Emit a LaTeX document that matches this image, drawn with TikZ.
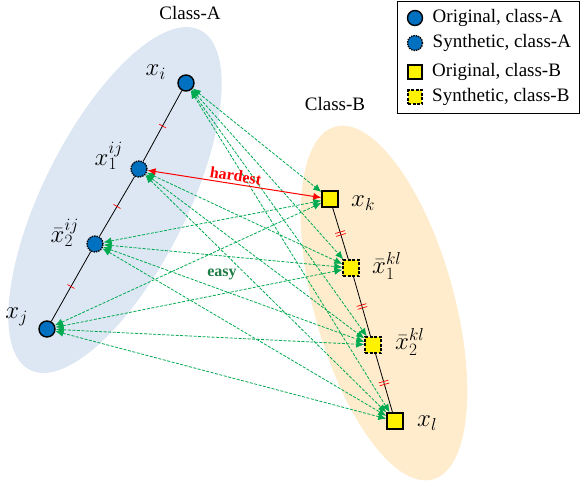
\documentclass[tikz,border=0pt]{standalone}
\usepackage{fontspec}
\setmainfont{Liberation Serif}
\usetikzlibrary{arrows.meta,decorations.markings,positioning}
\definecolor{ptblue}{RGB}{0,112,192}
\definecolor{clsA}{RGB}{220,231,243}
\definecolor{clsB}{RGB}{254,236,204}
\definecolor{pgreen}{RGB}{0,170,80}
\definecolor{egreen}{RGB}{30,125,70}

\begin{document}
\begin{tikzpicture}[x=1pt,y=-1pt,>={Latex[length=8pt,width=7pt]},
    font=\fontsize{19}{21}\selectfont,
    origA/.style={circle,draw,line width=1.4pt,fill=ptblue,minimum size=16pt,inner sep=0pt},
    synA/.style={origA,densely dotted},
    origB/.style={rectangle,draw,line width=1.4pt,fill=yellow,minimum size=16pt,inner sep=0pt},
    synB/.style={origB,dashed,dash pattern=on 3pt off 1.5pt},
    lbl/.style={font=\fontsize{23}{25}\selectfont,inner sep=1pt},
    pair/.style={<->,draw=pgreen,line width=0.8pt,dash pattern=on 3pt off 1.5pt},
    tickone/.style={postaction={decorate},decoration={markings,
      mark=at position 0.5 with {\draw[red,line width=0.7pt] (0,-4pt)--(0,4pt);}}},
    ticktwo/.style={postaction={decorate},decoration={markings,
      mark=at position 0.5 with {\draw[red,line width=0.7pt] (-1.5pt,-5pt)--(-1.5pt,5pt) (1.5pt,-5pt)--(1.5pt,5pt);}}}]
  \useasboundingbox (0,0) rectangle (582,482);
  \fill[clsA,rotate around={63.4:(115,200)}] (115,200) ellipse [x radius=190pt,y radius=72pt];
  \fill[clsB,rotate around={-74.5:(384,303)}] (384,303) ellipse [x radius=183pt,y radius=70pt];
  \node (nameA) at (190,13) {Class-A};
  \node (nameB) at (335,104) {Class-B};
  % class A
  \node[origA] (xi) at (186,83) {};
  \node[synA] (x1) at (139,169) {};
  \node[synA] (x2) at (95,244) {};
  \node[origA] (xj) at (47,329) {};
  % class B
  \node[origB] (xk) at (330,199) {};
  \node[synB] (y1) at (351,268) {};
  \node[synB] (y2) at (373,345) {};
  \node[origB] (xl) at (395,421) {};
  \node[lbl,anchor=east] (lxi) at (167,72) {$x_i$};
  \node[lbl,anchor=east] (lx1) at (124,156) {$x_1^{ij}$};
  \node[lbl,anchor=east] (lx2) at (80,233) {$\bar{x}_2^{ij}$};
  \node[lbl,anchor=east] (lxj) at (29,317) {$x_j$};
  \node[lbl,anchor=west] (lxk) at (350,203) {$x_k$};
  \node[lbl,anchor=west] (ly1) at (371,266) {$\bar{x}_1^{kl}$};
  \node[lbl,anchor=west] (ly2) at (394,342) {$\bar{x}_2^{kl}$};
  \node[lbl,anchor=west] (lxl) at (416,423) {$x_l$};
  \draw[tickone,line width=0.8pt] (xi)--(x1);
  \draw[tickone,line width=0.8pt] (x1)--(x2);
  \draw[tickone,line width=0.8pt] (x2)--(xj);
  \draw[ticktwo,line width=0.8pt] (xk)--(y1);
  \draw[ticktwo,line width=0.8pt] (y1)--(y2);
  \draw[ticktwo,line width=0.8pt] (y2)--(xl);
  \foreach \a/\blist in {xi/{xk,y1,y2,xl},x1/{y1,y2,xl},x2/{xk,y1,y2,xl},xj/{xk,y1,y2,xl}}
    \foreach \b in \blist
      \draw[pair] (\a)--(\b);
  \draw[<->,red,line width=1pt] (x1)--node[sloped,above=-1pt,font=\fontsize{16}{18}\selectfont\bfseries]{hardest}(xk);
  \node[text=egreen,font=\fontsize{16}{18}\selectfont\bfseries] (easy) at (222,274) {easy};
  % legend
  \draw[line width=1pt] (397,1) rectangle (579,113);
  \node[origA,minimum size=15pt] (kA) at (415,18) {};
  \node[synA,minimum size=15pt] (kA2) at (415,43) {};
  \node[origB,minimum size=14pt] (kB) at (415,72) {};
  \node[synB,minimum size=14pt] (kB2) at (415,97) {};
  \node[right=6pt of kA] (tA) {Original, class-A};
  \node[right=6pt of kA2] (tA2) {Synthetic, class-A};
  \node[right=6pt of kB] (tB) {Original, class-B};
  \node[right=6pt of kB2] (tB2) {Synthetic, class-B};
\end{tikzpicture}
\end{document}
